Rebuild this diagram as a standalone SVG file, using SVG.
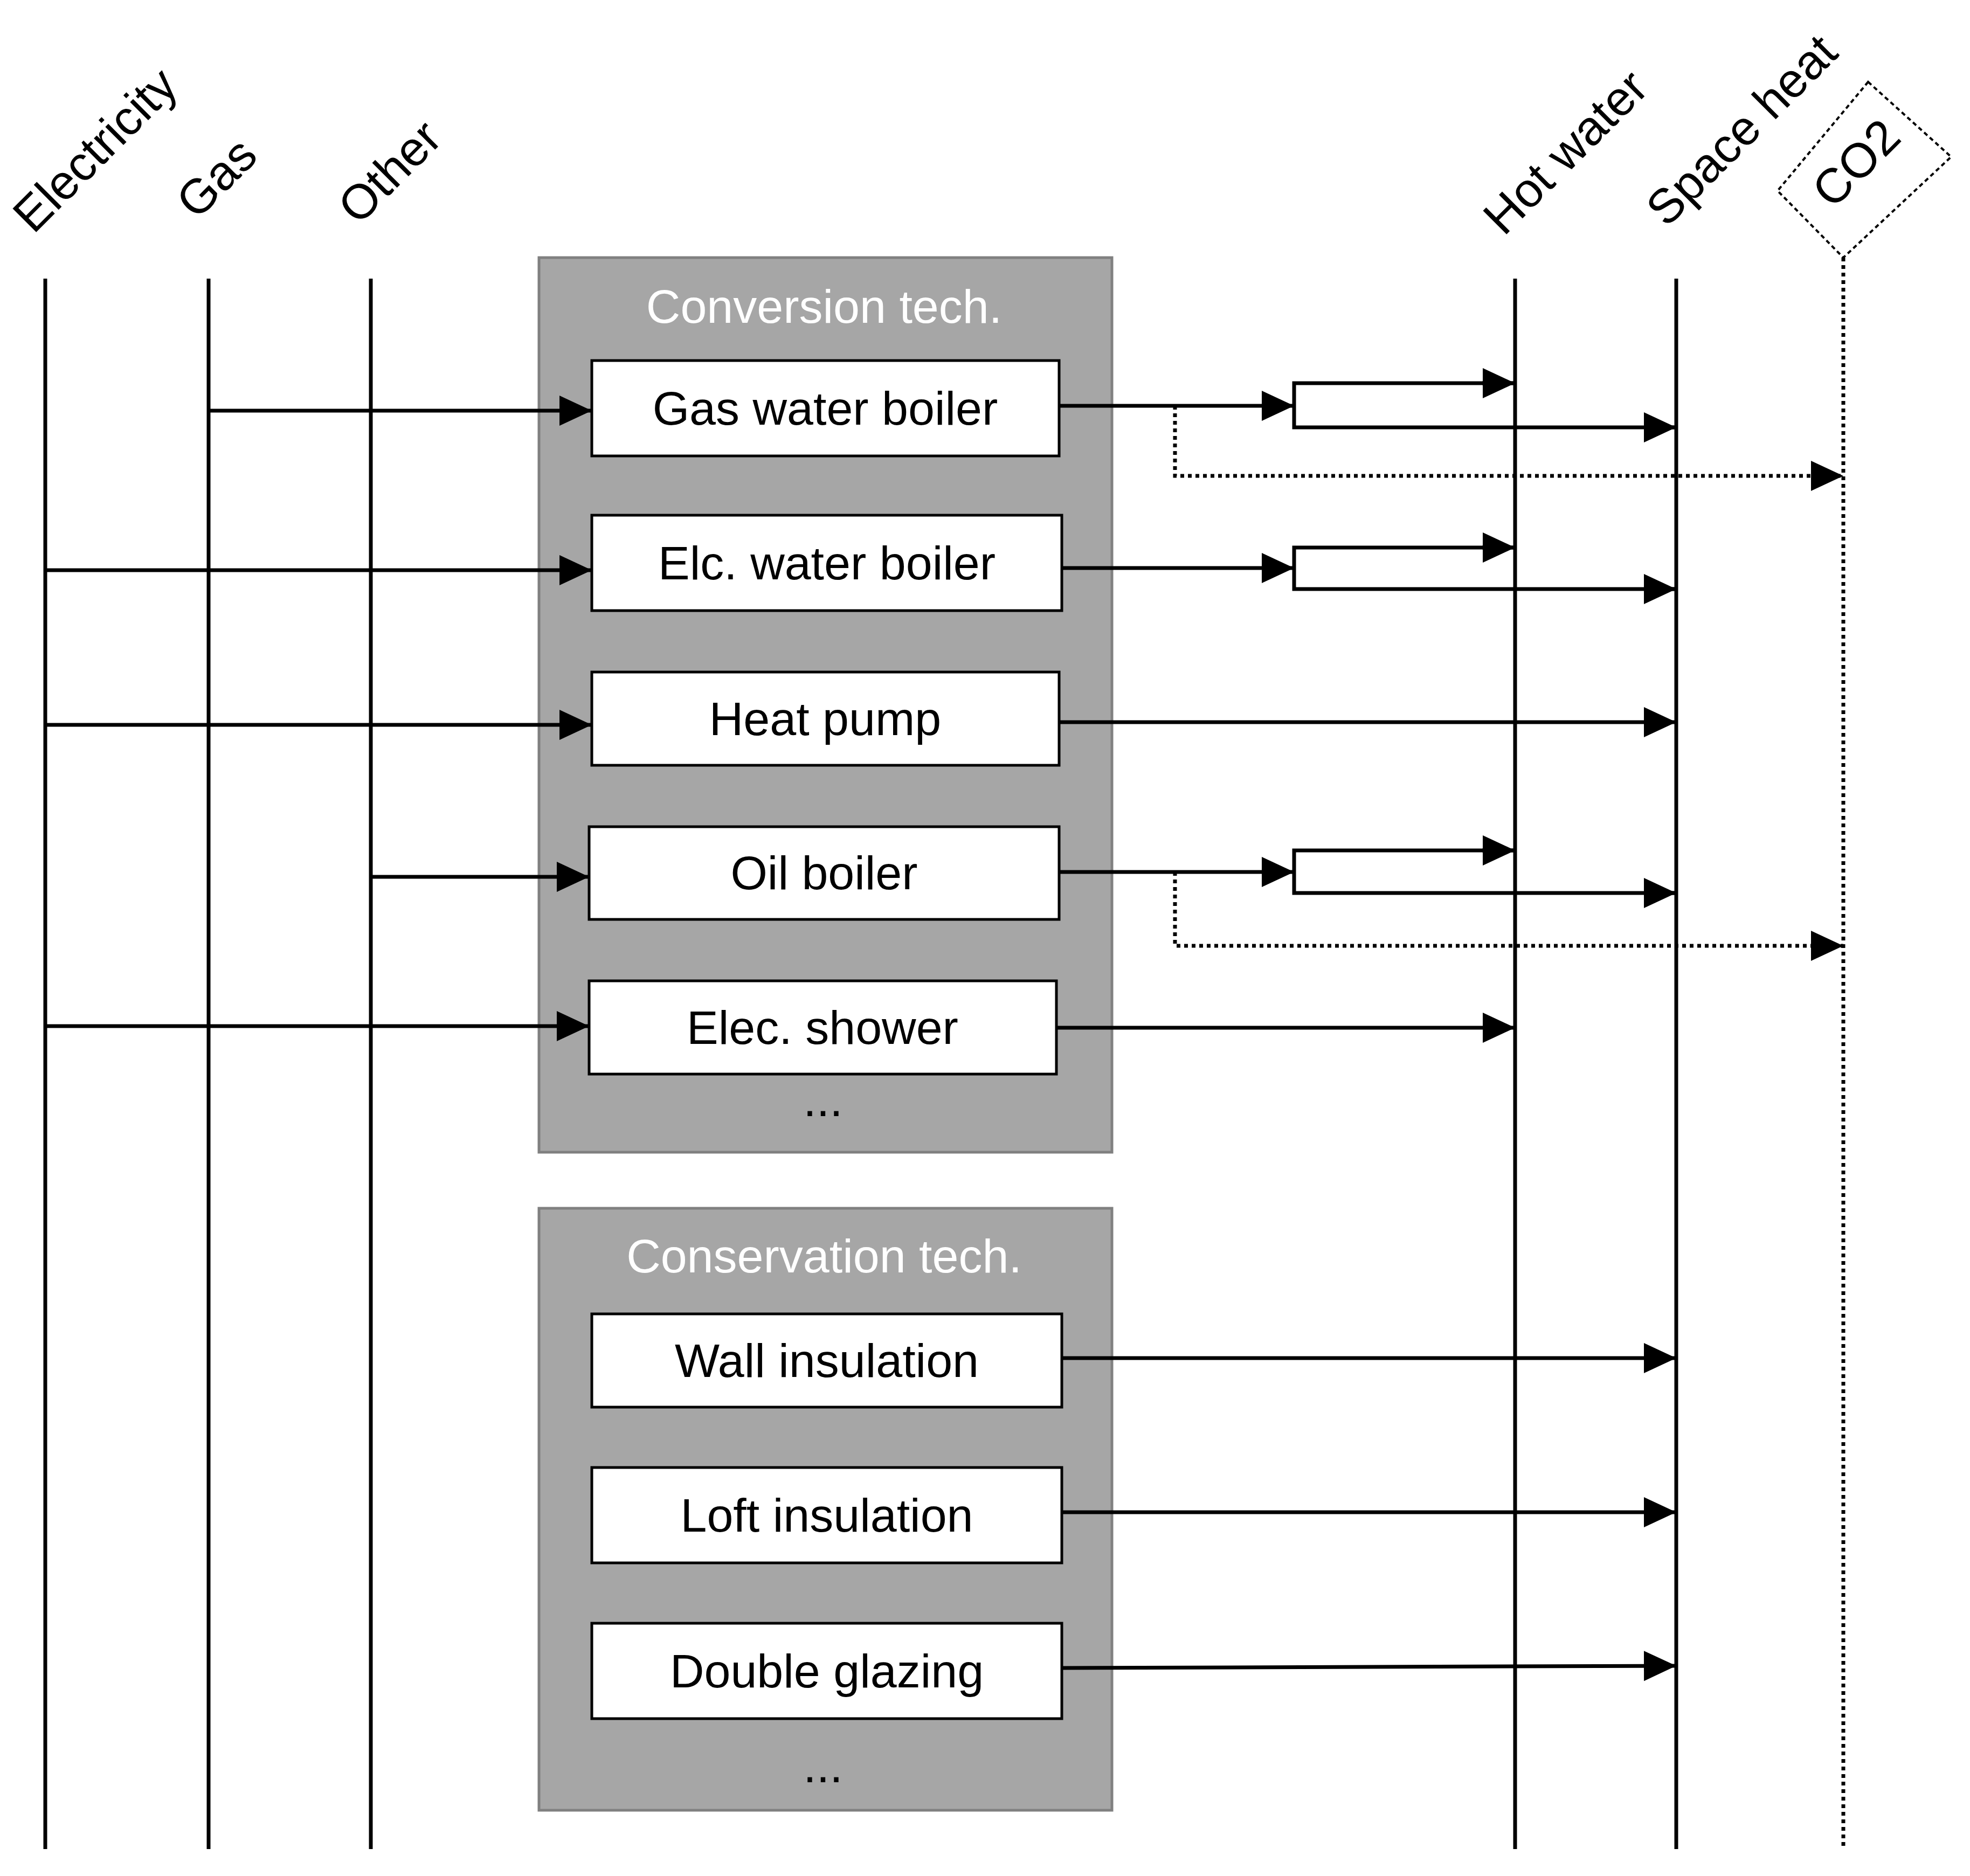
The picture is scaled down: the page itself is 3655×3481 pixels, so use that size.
<svg xmlns="http://www.w3.org/2000/svg" width="3655" height="3481" viewBox="0 0 3655 3481">
<defs>
<marker id="ah" markerUnits="userSpaceOnUse" markerWidth="60" markerHeight="60" viewBox="0 0 60 60" refX="60" refY="30" orient="auto"><path d="M0,2 L60,30 L0,58 Z" fill="#000"/></marker>
<style>
.ln{stroke:#000;stroke-width:7;fill:none}
.dt{stroke:#000;stroke-width:7;fill:none;stroke-dasharray:7 7}
.grp{fill:#a6a6a6;stroke:#808080;stroke-width:5}
.bx{fill:#fff;stroke:#000;stroke-width:5}
.t{font-family:"Liberation Sans",Arial,sans-serif;font-size:88px;fill:#000;text-anchor:middle}
.w{fill:#fff}
.lab{font-family:"Liberation Sans",Arial,sans-serif;font-size:90px;fill:#000}
</style>
</defs>
<rect width="3655" height="3481" fill="#fff"/>
<g id="axes">
<line class="ln" x1="84" y1="517" x2="84" y2="3431"/>
<line class="ln" x1="387" y1="517" x2="387" y2="3431"/>
<line class="ln" x1="688" y1="517" x2="688" y2="3431"/>
<line class="ln" x1="2811" y1="517" x2="2811" y2="3431"/>
<line class="ln" x1="3110" y1="517" x2="3110" y2="3431"/>
<line class="dt" x1="3420" y1="478" x2="3420" y2="3431"/>
<text class="lab" transform="translate(62,436) rotate(-45)">Electricity</text>
<text class="lab" transform="translate(365,410) rotate(-45)">Gas</text>
<text class="lab" transform="translate(665,420) rotate(-45)">Other</text>
<text class="lab" transform="translate(2790,440) rotate(-45)">Hot water</text>
<text class="lab" transform="translate(3092,424) rotate(-45)">Space heat</text>
<path class="dt" d="M3466,152 L3620,291 L3420,478 L3298,354 Z" style="stroke-width:4;stroke-dasharray:8 6"/>
<text class="lab" transform="translate(3400,390) rotate(-45)">CO2</text>
</g>
<g id="conversion">
<rect class="grp" x="1000" y="478" width="1063" height="1660"/>
<text class="t w" x="1529" y="599">Conversion tech.</text>
<text class="t" x="1527" y="2071">...</text>
</g>
<g id="gwb"><rect class="bx" x="1098" y="669" width="867" height="177"/><text class="t" x="1531" y="788">Gas water boiler</text></g>
<g id="ewb"><rect class="bx" x="1098" y="956" width="872" height="177"/><text class="t" x="1534" y="1075">Elc. water boiler</text></g>
<g id="hp"><rect class="bx" x="1098" y="1247" width="867" height="173"/><text class="t" x="1531" y="1364">Heat pump</text></g>
<g id="ob"><rect class="bx" x="1093" y="1534" width="872" height="172"/><text class="t" x="1529" y="1650">Oil boiler</text></g>
<g id="es"><rect class="bx" x="1093" y="1820" width="867" height="173"/><text class="t" x="1526" y="1937">Elec. shower</text></g>
<g id="conservation">
<rect class="grp" x="1000" y="2242" width="1063" height="1117"/>
<text class="t w" x="1529" y="2361">Conservation tech.</text>
<text class="t" x="1527" y="3307">...</text>
</g>
<g id="wi"><rect class="bx" x="1098" y="2438" width="872" height="173"/><text class="t" x="1534" y="2555">Wall insulation</text></g>
<g id="li"><rect class="bx" x="1098" y="2723" width="872" height="177"/><text class="t" x="1534" y="2842">Loft insulation</text></g>
<g id="dg"><rect class="bx" x="1098" y="3012" width="872" height="177"/><text class="t" x="1534" y="3131">Double glazing</text></g>
<g id="connectors">
<line class="ln" x1="387" y1="762" x2="1098" y2="762" marker-end="url(#ah)"/>
<line class="ln" x1="84" y1="1058" x2="1098" y2="1058" marker-end="url(#ah)"/>
<line class="ln" x1="84" y1="1345" x2="1098" y2="1345" marker-end="url(#ah)"/>
<line class="ln" x1="688" y1="1627" x2="1093" y2="1627" marker-end="url(#ah)"/>
<line class="ln" x1="84" y1="1904" x2="1093" y2="1904" marker-end="url(#ah)"/>
<line class="ln" x1="1965" y1="753" x2="2401" y2="753" marker-end="url(#ah)"/>
<path class="ln" d="M2811,711 L2401,711 L2401,793 L3110,793"/>
<line class="ln" x1="2750" y1="711" x2="2811" y2="711" marker-end="url(#ah)"/>
<line class="ln" x1="3050" y1="793" x2="3110" y2="793" marker-end="url(#ah)"/>
<path class="dt" d="M2180,753 L2180,883 L3420,883" marker-end="url(#ah)"/>
<line class="ln" x1="1970" y1="1054" x2="2401" y2="1054" marker-end="url(#ah)"/>
<path class="ln" d="M2811,1016 L2401,1016 L2401,1093 L3110,1093"/>
<line class="ln" x1="2750" y1="1016" x2="2811" y2="1016" marker-end="url(#ah)"/>
<line class="ln" x1="3050" y1="1093" x2="3110" y2="1093" marker-end="url(#ah)"/>
<line class="ln" x1="1965" y1="1340" x2="3110" y2="1340" marker-end="url(#ah)"/>
<line class="ln" x1="1965" y1="1618" x2="2401" y2="1618" marker-end="url(#ah)"/>
<path class="ln" d="M2811,1578 L2401,1578 L2401,1657 L3110,1657"/>
<line class="ln" x1="2750" y1="1578" x2="2811" y2="1578" marker-end="url(#ah)"/>
<line class="ln" x1="3050" y1="1657" x2="3110" y2="1657" marker-end="url(#ah)"/>
<path class="dt" d="M2180,1618 L2180,1755 L3420,1755" marker-end="url(#ah)"/>
<line class="ln" x1="1960" y1="1907" x2="2811" y2="1907" marker-end="url(#ah)"/>
<line class="ln" x1="1970" y1="2520" x2="3110" y2="2520" marker-end="url(#ah)"/>
<line class="ln" x1="1970" y1="2806" x2="3110" y2="2806" marker-end="url(#ah)"/>
<line class="ln" x1="1970" y1="3095" x2="3110" y2="3091" marker-end="url(#ah)"/>
</g>
</svg>
